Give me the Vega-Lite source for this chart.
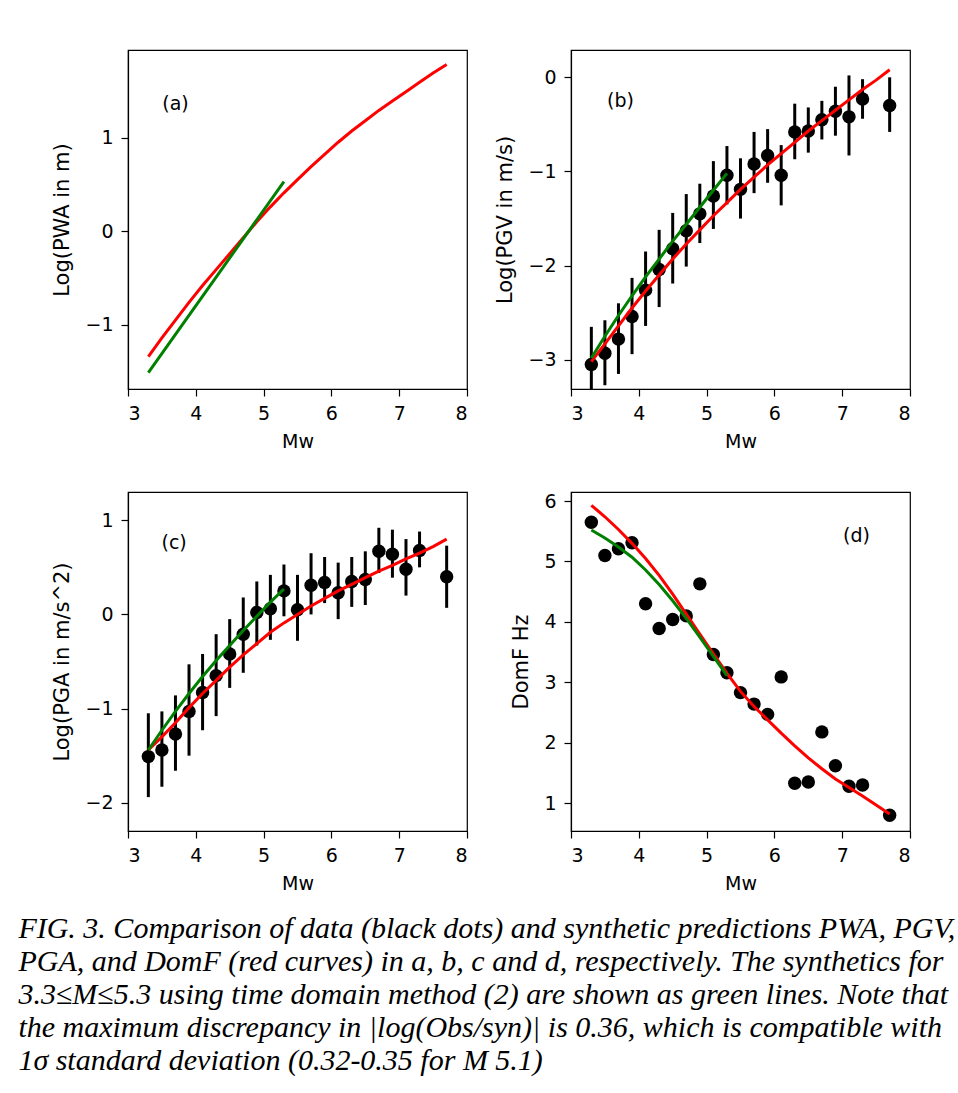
{
  "$schema": "https://vega.github.io/schema/vega-lite/v6.json",
  "padding": {"left": 18, "top": 49, "right": 5, "bottom": 20},
  "background": "white",
  "config": {
    "font": "DejaVu Sans",
    "view": {"stroke": "black", "strokeWidth": 1.2},
    "axis": {"grid": false, "domainColor": "black", "domainWidth": 1.2, "tickColor": "black", "tickWidth": 1.2, "tickSize": 7, "labelColor": "black", "labelFont": "DejaVu Sans", "labelFontSize": 19, "labelPadding": 8, "titleColor": "black", "titleFont": "DejaVu Sans", "titleFontSize": 19, "titleFontWeight": "normal"},
    "axisX": {"titlePadding": 9},
    "axisY": {"titleFontSize": 21, "titlePadding": 12}
  },
  "datasets": {
    "pwa_syn": [
      {"model": "red", "Mw": 3.3, "v": -1.34}, {"model": "red", "Mw": 3.5, "v": -1.14}, {"model": "red", "Mw": 3.7, "v": -0.95}, {"model": "red", "Mw": 3.9, "v": -0.76}, {"model": "red", "Mw": 4.1, "v": -0.58}, {"model": "red", "Mw": 4.3, "v": -0.41}, {"model": "red", "Mw": 4.5, "v": -0.24}, {"model": "red", "Mw": 4.7, "v": -0.07}, {"model": "red", "Mw": 4.9, "v": 0.1}, {"model": "red", "Mw": 5.1, "v": 0.26}, {"model": "red", "Mw": 5.3, "v": 0.41}, {"model": "red", "Mw": 5.5, "v": 0.55}, {"model": "red", "Mw": 5.7, "v": 0.69}, {"model": "red", "Mw": 5.9, "v": 0.82}, {"model": "red", "Mw": 6.1, "v": 0.95}, {"model": "red", "Mw": 6.3, "v": 1.07}, {"model": "red", "Mw": 6.5, "v": 1.18}, {"model": "red", "Mw": 6.7, "v": 1.29}, {"model": "red", "Mw": 6.9, "v": 1.39}, {"model": "red", "Mw": 7.1, "v": 1.49}, {"model": "red", "Mw": 7.3, "v": 1.59}, {"model": "red", "Mw": 7.5, "v": 1.69}, {"model": "red", "Mw": 7.7, "v": 1.78},
      {"model": "green", "Mw": 3.3, "v": -1.51}, {"model": "green", "Mw": 4.3, "v": -0.49}, {"model": "green", "Mw": 5.3, "v": 0.53}
    ],
    "pgv_obs": [
      {"Mw": 3.3, "v": -3.05, "lo": -3.45, "hi": -2.65}, {"Mw": 3.5, "v": -2.93, "lo": -3.27, "hi": -2.58}, {"Mw": 3.7, "v": -2.78, "lo": -3.15, "hi": -2.4}, {"Mw": 3.9, "v": -2.54, "lo": -2.94, "hi": -2.13}, {"Mw": 4.1, "v": -2.26, "lo": -2.64, "hi": -1.85}, {"Mw": 4.3, "v": -2.04, "lo": -2.44, "hi": -1.62}, {"Mw": 4.5, "v": -1.82, "lo": -2.19, "hi": -1.44}, {"Mw": 4.7, "v": -1.63, "lo": -2.01, "hi": -1.24}, {"Mw": 4.9, "v": -1.45, "lo": -1.76, "hi": -1.13}, {"Mw": 5.1, "v": -1.26, "lo": -1.61, "hi": -0.89}, {"Mw": 5.3, "v": -1.04, "lo": -1.35, "hi": -0.73}, {"Mw": 5.5, "v": -1.19, "lo": -1.5, "hi": -0.86}, {"Mw": 5.7, "v": -0.92, "lo": -1.23, "hi": -0.58}, {"Mw": 5.9, "v": -0.83, "lo": -1.12, "hi": -0.55}, {"Mw": 6.1, "v": -1.04, "lo": -1.36, "hi": -0.72}, {"Mw": 6.3, "v": -0.58, "lo": -0.87, "hi": -0.28}, {"Mw": 6.5, "v": -0.57, "lo": -0.8, "hi": -0.32}, {"Mw": 6.7, "v": -0.45, "lo": -0.66, "hi": -0.25}, {"Mw": 6.9, "v": -0.36, "lo": -0.62, "hi": -0.1}, {"Mw": 7.1, "v": -0.42, "lo": -0.83, "hi": 0.02}, {"Mw": 7.3, "v": -0.23, "lo": -0.44, "hi": -0.02}, {"Mw": 7.7, "v": -0.3, "lo": -0.58, "hi": 0.0}
    ],
    "pgv_syn": [
      {"model": "red", "Mw": 3.3, "v": -3.02}, {"model": "red", "Mw": 3.5, "v": -2.83}, {"model": "red", "Mw": 3.7, "v": -2.64}, {"model": "red", "Mw": 3.9, "v": -2.45}, {"model": "red", "Mw": 4.1, "v": -2.27}, {"model": "red", "Mw": 4.3, "v": -2.1}, {"model": "red", "Mw": 4.5, "v": -1.93}, {"model": "red", "Mw": 4.7, "v": -1.77}, {"model": "red", "Mw": 4.9, "v": -1.62}, {"model": "red", "Mw": 5.1, "v": -1.47}, {"model": "red", "Mw": 5.3, "v": -1.33}, {"model": "red", "Mw": 5.5, "v": -1.19}, {"model": "red", "Mw": 5.7, "v": -1.06}, {"model": "red", "Mw": 5.9, "v": -0.93}, {"model": "red", "Mw": 6.1, "v": -0.81}, {"model": "red", "Mw": 6.3, "v": -0.69}, {"model": "red", "Mw": 6.5, "v": -0.57}, {"model": "red", "Mw": 6.7, "v": -0.46}, {"model": "red", "Mw": 6.9, "v": -0.35}, {"model": "red", "Mw": 7.1, "v": -0.24}, {"model": "red", "Mw": 7.3, "v": -0.13}, {"model": "red", "Mw": 7.5, "v": -0.03}, {"model": "red", "Mw": 7.7, "v": 0.08},
      {"model": "green", "Mw": 3.3, "v": -2.98}, {"model": "green", "Mw": 3.5, "v": -2.75}, {"model": "green", "Mw": 3.7, "v": -2.53}, {"model": "green", "Mw": 3.9, "v": -2.32}, {"model": "green", "Mw": 4.1, "v": -2.12}, {"model": "green", "Mw": 4.3, "v": -1.93}, {"model": "green", "Mw": 4.5, "v": -1.74}, {"model": "green", "Mw": 4.7, "v": -1.56}, {"model": "green", "Mw": 4.9, "v": -1.38}, {"model": "green", "Mw": 5.1, "v": -1.2}, {"model": "green", "Mw": 5.3, "v": -1.02}
    ],
    "pga_obs": [
      {"Mw": 3.3, "v": -1.51, "lo": -1.94, "hi": -1.05}, {"Mw": 3.5, "v": -1.44, "lo": -1.83, "hi": -1.03}, {"Mw": 3.7, "v": -1.27, "lo": -1.66, "hi": -0.86}, {"Mw": 3.9, "v": -1.03, "lo": -1.5, "hi": -0.53}, {"Mw": 4.1, "v": -0.83, "lo": -1.23, "hi": -0.42}, {"Mw": 4.3, "v": -0.65, "lo": -1.08, "hi": -0.21}, {"Mw": 4.5, "v": -0.42, "lo": -0.78, "hi": -0.05}, {"Mw": 4.7, "v": -0.21, "lo": -0.62, "hi": 0.18}, {"Mw": 4.9, "v": 0.02, "lo": -0.33, "hi": 0.35}, {"Mw": 5.1, "v": 0.06, "lo": -0.27, "hi": 0.42}, {"Mw": 5.3, "v": 0.25, "lo": -0.02, "hi": 0.53}, {"Mw": 5.5, "v": 0.05, "lo": -0.28, "hi": 0.42}, {"Mw": 5.7, "v": 0.31, "lo": 0.0, "hi": 0.65}, {"Mw": 5.9, "v": 0.34, "lo": 0.12, "hi": 0.61}, {"Mw": 6.1, "v": 0.23, "lo": -0.05, "hi": 0.55}, {"Mw": 6.3, "v": 0.35, "lo": 0.08, "hi": 0.61}, {"Mw": 6.5, "v": 0.37, "lo": 0.1, "hi": 0.67}, {"Mw": 6.7, "v": 0.67, "lo": 0.44, "hi": 0.92}, {"Mw": 6.9, "v": 0.64, "lo": 0.39, "hi": 0.9}, {"Mw": 7.1, "v": 0.48, "lo": 0.2, "hi": 0.8}, {"Mw": 7.3, "v": 0.68, "lo": 0.5, "hi": 0.88}, {"Mw": 7.7, "v": 0.4, "lo": 0.07, "hi": 0.73}
    ],
    "pga_syn": [
      {"model": "red", "Mw": 3.3, "v": -1.44}, {"model": "red", "Mw": 3.5, "v": -1.3}, {"model": "red", "Mw": 3.7, "v": -1.15}, {"model": "red", "Mw": 3.9, "v": -0.99}, {"model": "red", "Mw": 4.1, "v": -0.84}, {"model": "red", "Mw": 4.3, "v": -0.7}, {"model": "red", "Mw": 4.5, "v": -0.56}, {"model": "red", "Mw": 4.7, "v": -0.43}, {"model": "red", "Mw": 4.9, "v": -0.31}, {"model": "red", "Mw": 5.1, "v": -0.19}, {"model": "red", "Mw": 5.3, "v": -0.09}, {"model": "red", "Mw": 5.5, "v": 0.0}, {"model": "red", "Mw": 5.7, "v": 0.09}, {"model": "red", "Mw": 5.9, "v": 0.17}, {"model": "red", "Mw": 6.1, "v": 0.25}, {"model": "red", "Mw": 6.3, "v": 0.32}, {"model": "red", "Mw": 6.5, "v": 0.39}, {"model": "red", "Mw": 6.7, "v": 0.46}, {"model": "red", "Mw": 6.9, "v": 0.52}, {"model": "red", "Mw": 7.1, "v": 0.59}, {"model": "red", "Mw": 7.3, "v": 0.65}, {"model": "red", "Mw": 7.5, "v": 0.72}, {"model": "red", "Mw": 7.7, "v": 0.8},
      {"model": "green", "Mw": 3.3, "v": -1.44}, {"model": "green", "Mw": 3.5, "v": -1.23}, {"model": "green", "Mw": 3.7, "v": -1.03}, {"model": "green", "Mw": 3.9, "v": -0.84}, {"model": "green", "Mw": 4.1, "v": -0.66}, {"model": "green", "Mw": 4.3, "v": -0.49}, {"model": "green", "Mw": 4.5, "v": -0.33}, {"model": "green", "Mw": 4.7, "v": -0.17}, {"model": "green", "Mw": 4.9, "v": -0.02}, {"model": "green", "Mw": 5.1, "v": 0.13}, {"model": "green", "Mw": 5.3, "v": 0.27}
    ],
    "domf_obs": [
      {"Mw": 3.3, "v": 5.65}, {"Mw": 3.5, "v": 5.1}, {"Mw": 3.7, "v": 5.21}, {"Mw": 3.9, "v": 5.31}, {"Mw": 4.1, "v": 4.3}, {"Mw": 4.3, "v": 3.89}, {"Mw": 4.5, "v": 4.04}, {"Mw": 4.7, "v": 4.1}, {"Mw": 4.9, "v": 4.63}, {"Mw": 5.1, "v": 3.46}, {"Mw": 5.3, "v": 3.16}, {"Mw": 5.5, "v": 2.83}, {"Mw": 5.7, "v": 2.64}, {"Mw": 5.9, "v": 2.47}, {"Mw": 6.1, "v": 3.09}, {"Mw": 6.3, "v": 1.33}, {"Mw": 6.5, "v": 1.35}, {"Mw": 6.7, "v": 2.18}, {"Mw": 6.9, "v": 1.62}, {"Mw": 7.1, "v": 1.28}, {"Mw": 7.3, "v": 1.3}, {"Mw": 7.7, "v": 0.8}
    ],
    "domf_syn": [
      {"model": "red", "Mw": 3.3, "v": 5.93}, {"model": "red", "Mw": 3.5, "v": 5.74}, {"model": "red", "Mw": 3.7, "v": 5.53}, {"model": "red", "Mw": 3.9, "v": 5.3}, {"model": "red", "Mw": 4.1, "v": 5.05}, {"model": "red", "Mw": 4.3, "v": 4.77}, {"model": "red", "Mw": 4.5, "v": 4.46}, {"model": "red", "Mw": 4.7, "v": 4.13}, {"model": "red", "Mw": 4.9, "v": 3.8}, {"model": "red", "Mw": 5.1, "v": 3.47}, {"model": "red", "Mw": 5.3, "v": 3.15}, {"model": "red", "Mw": 5.5, "v": 2.85}, {"model": "red", "Mw": 5.7, "v": 2.6}, {"model": "red", "Mw": 5.9, "v": 2.38}, {"model": "red", "Mw": 6.1, "v": 2.16}, {"model": "red", "Mw": 6.3, "v": 1.95}, {"model": "red", "Mw": 6.5, "v": 1.75}, {"model": "red", "Mw": 6.7, "v": 1.57}, {"model": "red", "Mw": 6.9, "v": 1.4}, {"model": "red", "Mw": 7.1, "v": 1.26}, {"model": "red", "Mw": 7.3, "v": 1.12}, {"model": "red", "Mw": 7.5, "v": 0.97}, {"model": "red", "Mw": 7.7, "v": 0.82},
      {"model": "green", "Mw": 3.3, "v": 5.52}, {"model": "green", "Mw": 3.5, "v": 5.39}, {"model": "green", "Mw": 3.7, "v": 5.24}, {"model": "green", "Mw": 3.9, "v": 5.07}, {"model": "green", "Mw": 4.1, "v": 4.86}, {"model": "green", "Mw": 4.3, "v": 4.62}, {"model": "green", "Mw": 4.5, "v": 4.35}, {"model": "green", "Mw": 4.7, "v": 4.06}, {"model": "green", "Mw": 4.9, "v": 3.75}, {"model": "green", "Mw": 5.1, "v": 3.43}, {"model": "green", "Mw": 5.3, "v": 3.11}
    ],
    "labels": [
      {"panel": "a", "Mw": 3.7, "v": 1.36, "label": "(a)"},
      {"panel": "b", "Mw": 3.73, "v": -0.25, "label": "(b)"},
      {"panel": "c", "Mw": 3.68, "v": 0.755, "label": "(c)"},
      {"panel": "d", "Mw": 7.21, "v": 5.42, "label": "(d)"}
    ]
  },
  "title": {
    "text": [
      "FIG. 3. Comparison of data (black dots) and synthetic predictions PWA, PGV,",
      "PGA, and DomF (red curves) in a, b, c and d, respectively. The synthetics for",
      "3.3≤M≤5.3 using time domain method (2) are shown as green lines. Note that",
      "the maximum discrepancy in |log(Obs/syn)| is 0.36, which is compatible with",
      "1σ standard deviation (0.32-0.35 for M 5.1)"
    ],
    "orient": "bottom", "anchor": "start", "font": "Liberation Serif", "fontStyle": "italic", "fontWeight": "normal", "fontSize": 30, "lineHeight": 33, "color": "black", "offset": 20, "dx": -33
  },
  "columns": 2,
  "spacing": {"row": 39, "column": 25},
  "resolve": {"scale": {"x": "independent", "y": "independent", "color": "independent"}},
  "concat": [
    {
      "width": 339, "height": 339,
      "layer": [
        {
          "data": {"name": "pwa_syn"},
          "mark": {"type": "line", "strokeWidth": 3, "clip": true},
          "encoding": {
            "x": {"field": "Mw", "type": "quantitative", "scale": {"domain": [3, 8], "nice": false, "zero": false}, "axis": {"values": [3, 4, 5, 6, 7, 8], "format": "d", "title": "Mw"}},
            "y": {"field": "v", "type": "quantitative", "scale": {"domain": [-1.685, 1.935], "nice": false, "zero": false}, "axis": {"values": [-1, 0, 1], "format": "d", "title": "Log(PWA in m)"}},
            "color": {"field": "model", "type": "nominal", "scale": {"domain": ["red", "green"], "range": ["#ff0000", "#008000"]}, "legend": null}
          }
        },
        {
          "data": {"name": "labels"},
          "transform": [{"filter": "datum.panel === 'a'"}],
          "mark": {"type": "text", "font": "DejaVu Sans", "fontSize": 19, "color": "black", "align": "center", "baseline": "middle"},
          "encoding": {
            "x": {"field": "Mw", "type": "quantitative", "title": "Mw"},
            "y": {"field": "v", "type": "quantitative", "title": "Log(PWA in m)"},
            "text": {"field": "label"}
          }
        }
      ]
    },
    {
      "width": 339, "height": 339,
      "layer": [
        {
          "data": {"name": "pgv_obs"},
          "mark": {"type": "rule", "strokeWidth": 3, "color": "black", "clip": true},
          "encoding": {
            "x": {"field": "Mw", "type": "quantitative", "scale": {"domain": [3, 8], "nice": false, "zero": false}, "axis": {"values": [3, 4, 5, 6, 7, 8], "format": "d", "title": "Mw"}},
            "y": {"field": "lo", "type": "quantitative", "scale": {"domain": [-3.31, 0.29], "nice": false, "zero": false}, "axis": {"values": [-3, -2, -1, 0], "format": "d", "title": "Log(PGV in m/s)"}},
            "y2": {"field": "hi"}
          }
        },
        {
          "data": {"name": "pgv_obs"},
          "mark": {"type": "point", "filled": true, "size": 180, "opacity": 1, "color": "black", "clip": true},
          "encoding": {
            "x": {"field": "Mw", "type": "quantitative", "title": "Mw"},
            "y": {"field": "v", "type": "quantitative", "title": "Log(PGV in m/s)"}
          }
        },
        {
          "data": {"name": "pgv_syn"},
          "mark": {"type": "line", "strokeWidth": 3, "clip": true},
          "encoding": {
            "x": {"field": "Mw", "type": "quantitative", "title": "Mw"},
            "y": {"field": "v", "type": "quantitative", "title": "Log(PGV in m/s)"},
            "color": {"field": "model", "type": "nominal", "scale": {"domain": ["red", "green"], "range": ["#ff0000", "#008000"]}, "legend": null}
          }
        },
        {
          "data": {"name": "labels"},
          "transform": [{"filter": "datum.panel === 'b'"}],
          "mark": {"type": "text", "font": "DejaVu Sans", "fontSize": 19, "color": "black", "align": "center", "baseline": "middle"},
          "encoding": {
            "x": {"field": "Mw", "type": "quantitative", "title": "Mw"},
            "y": {"field": "v", "type": "quantitative", "title": "Log(PGV in m/s)"},
            "text": {"field": "label"}
          }
        }
      ]
    },
    {
      "width": 339, "height": 339,
      "layer": [
        {
          "data": {"name": "pga_obs"},
          "mark": {"type": "rule", "strokeWidth": 3, "color": "black", "clip": true},
          "encoding": {
            "x": {"field": "Mw", "type": "quantitative", "scale": {"domain": [3, 8], "nice": false, "zero": false}, "axis": {"values": [3, 4, 5, 6, 7, 8], "format": "d", "title": "Mw"}},
            "y": {"field": "lo", "type": "quantitative", "scale": {"domain": [-2.3, 1.3], "nice": false, "zero": false}, "axis": {"values": [-2, -1, 0, 1], "format": "d", "title": "Log(PGA in m/s^2)"}},
            "y2": {"field": "hi"}
          }
        },
        {
          "data": {"name": "pga_obs"},
          "mark": {"type": "point", "filled": true, "size": 180, "opacity": 1, "color": "black", "clip": true},
          "encoding": {
            "x": {"field": "Mw", "type": "quantitative", "title": "Mw"},
            "y": {"field": "v", "type": "quantitative", "title": "Log(PGA in m/s^2)"}
          }
        },
        {
          "data": {"name": "pga_syn"},
          "mark": {"type": "line", "strokeWidth": 3, "clip": true},
          "encoding": {
            "x": {"field": "Mw", "type": "quantitative", "title": "Mw"},
            "y": {"field": "v", "type": "quantitative", "title": "Log(PGA in m/s^2)"},
            "color": {"field": "model", "type": "nominal", "scale": {"domain": ["red", "green"], "range": ["#ff0000", "#008000"]}, "legend": null}
          }
        },
        {
          "data": {"name": "labels"},
          "transform": [{"filter": "datum.panel === 'c'"}],
          "mark": {"type": "text", "font": "DejaVu Sans", "fontSize": 19, "color": "black", "align": "center", "baseline": "middle"},
          "encoding": {
            "x": {"field": "Mw", "type": "quantitative", "title": "Mw"},
            "y": {"field": "v", "type": "quantitative", "title": "Log(PGA in m/s^2)"},
            "text": {"field": "label"}
          }
        }
      ]
    },
    {
      "width": 339, "height": 339,
      "layer": [
        {
          "data": {"name": "domf_obs"},
          "mark": {"type": "point", "filled": true, "size": 180, "opacity": 1, "color": "black", "clip": true},
          "encoding": {
            "x": {"field": "Mw", "type": "quantitative", "scale": {"domain": [3, 8], "nice": false, "zero": false}, "axis": {"values": [3, 4, 5, 6, 7, 8], "format": "d", "title": "Mw"}},
            "y": {"field": "v", "type": "quantitative", "scale": {"domain": [0.54, 6.15], "nice": false, "zero": false}, "axis": {"values": [1, 2, 3, 4, 5, 6], "format": "d", "title": "DomF Hz"}}
          }
        },
        {
          "data": {"name": "domf_syn"},
          "mark": {"type": "line", "strokeWidth": 3, "clip": true},
          "encoding": {
            "x": {"field": "Mw", "type": "quantitative", "title": "Mw"},
            "y": {"field": "v", "type": "quantitative", "title": "DomF Hz"},
            "color": {"field": "model", "type": "nominal", "scale": {"domain": ["red", "green"], "range": ["#ff0000", "#008000"]}, "legend": null}
          }
        },
        {
          "data": {"name": "labels"},
          "transform": [{"filter": "datum.panel === 'd'"}],
          "mark": {"type": "text", "font": "DejaVu Sans", "fontSize": 19, "color": "black", "align": "center", "baseline": "middle"},
          "encoding": {
            "x": {"field": "Mw", "type": "quantitative", "title": "Mw"},
            "y": {"field": "v", "type": "quantitative", "title": "DomF Hz"},
            "text": {"field": "label"}
          }
        }
      ]
    }
  ]
}
